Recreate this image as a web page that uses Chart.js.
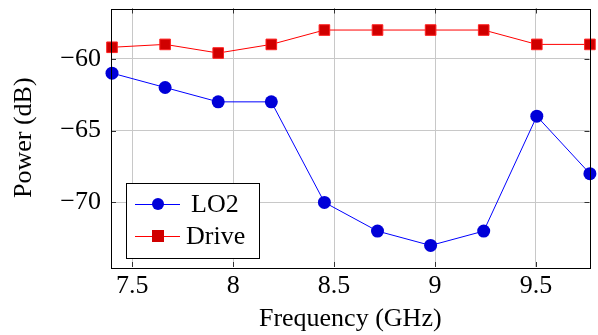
<!DOCTYPE html>
<html>
<head>
<meta charset="utf-8">
<script src="https://cdn.jsdelivr.net/npm/chart.js@4/dist/chart.umd.min.js"></script>
<style>
  html, body { margin: 0; padding: 0; background: #fff; }
  #wrap { width: 598px; height: 335px; }
</style>
</head>
<body>
<div id="wrap"><canvas id="chart" width="598" height="335"></canvas></div>
<script>
// --- data ---
const freqs = [7.4, 7.663, 7.926, 8.189, 8.452, 8.715, 8.978, 9.241, 9.504, 9.767];
const lo2 = [-61, -62, -63, -63, -70, -72, -73, -72, -64, -68];
const drive = [-59.2, -59, -59.6, -59, -58, -58, -58, -58, -59, -59];
const xTicks = [7.5, 8, 8.5, 9, 9.5];
const yTicks = [-70, -65, -60];

const FONT = "'Liberation Serif', 'DejaVu Serif', serif";

function toPoints(ys) {
  return freqs.map((f, i) => ({ x: f, y: ys[i] }));
}

// frame round the plot with small inner ticks (pgfplots style)
const framePlugin = {
  id: 'frame',
  afterDraw(chart) {
    const { ctx, chartArea: a, scales } = chart;
    ctx.save();
    ctx.strokeStyle = '#333';
    ctx.lineWidth = 1;
    ctx.beginPath();
    for (const v of xTicks) {
      const px = Math.round(scales.x.getPixelForValue(v)) + 0.5;
      ctx.moveTo(px, a.top); ctx.lineTo(px, a.top + 5);
      ctx.moveTo(px, a.bottom); ctx.lineTo(px, a.bottom - 5);
    }
    for (const v of yTicks) {
      const py = Math.round(scales.y.getPixelForValue(v)) + 0.5;
      ctx.moveTo(a.left, py); ctx.lineTo(a.left + 5, py);
      ctx.moveTo(a.right, py); ctx.lineTo(a.right - 5, py);
    }
    ctx.stroke();
    ctx.strokeStyle = '#000';
    ctx.strokeRect(Math.round(a.left) + 0.5, Math.round(a.top) + 0.5,
      Math.round(a.right - a.left), Math.round(a.bottom - a.top));
    ctx.restore();
  }
};

// legend box inside the plot, lower left
const legendBox = {
  id: 'legendBox',
  afterDraw(chart) {
    const { ctx, chartArea: a } = chart;
    const x0 = a.left + 15, y0 = a.bottom - 84, w = 133, h = 75;
    ctx.save();
    ctx.fillStyle = '#fff';
    ctx.fillRect(x0, y0, w, h);
    ctx.strokeStyle = '#000';
    ctx.lineWidth = 1;
    ctx.strokeRect(x0 + 0.5, y0 + 0.5, w, h);
    chart.data.datasets.forEach((ds, i) => {
      const cy = y0 + 21 + i * 32;
      ctx.strokeStyle = ds.borderColor;
      ctx.beginPath();
      ctx.moveTo(x0 + 9, cy + 0.5); ctx.lineTo(x0 + 54, cy + 0.5);
      ctx.stroke();
      ctx.fillStyle = ds.pointBackgroundColor;
      if (ds.pointStyle === 'rect') {
        ctx.fillRect(x0 + 26, cy - 6, 12, 12);
      } else {
        ctx.beginPath();
        ctx.arc(x0 + 32, cy, 6, 0, Math.PI * 2);
        ctx.fill();
      }
      ctx.fillStyle = '#000';
      ctx.font = '26px ' + FONT;
      ctx.textBaseline = 'middle';
      ctx.fillText(ds.label, x0 + (i === 0 ? 65 : 60), cy + 1);
    });
    ctx.restore();
  }
};

const cfg = {
  type: 'scatter',
  data: {
    datasets: [
      {
        label: 'LO2',
        data: toPoints(lo2),
        showLine: true,
        borderColor: '#0000ff',
        borderWidth: 1,
        pointStyle: 'circle',
        pointRadius: 6.5,
        pointBackgroundColor: '#0000d8',
        pointBorderColor: '#0000d8',
        pointBorderWidth: 0,
      },
      {
        label: 'Drive',
        data: toPoints(drive),
        showLine: true,
        borderColor: '#ff0000',
        borderWidth: 1,
        pointStyle: 'rect',
        pointRadius: 7.5,
        pointBackgroundColor: '#d00000',
        pointBorderColor: '#ff2020',
        pointBorderWidth: 1,
      },
    ],
  },
  options: {
    responsive: false,
    animation: false,
    clip: false,
    layout: { padding: { top: 8, right: 2, left: 0, bottom: 0 } },
    plugins: { legend: { display: false }, tooltip: { enabled: false } },
    scales: {
      x: {
        type: 'linear',
        min: 7.395,
        max: 9.765,
        afterFit(s) { s.height = 68; s.paddingLeft = 0; s.paddingRight = 0; },
        afterBuildTicks(s) { s.ticks = xTicks.map(v => ({ value: v })); },
        ticks: {
          color: '#000',
          font: { family: FONT, size: 26 },
          padding: 4,
          maxRotation: 0,
          callback: v => String(v),
        },
        grid: { color: '#c8c8c8', lineWidth: 1, drawTicks: false },
        border: { display: false },
        title: {
          display: true,
          text: 'Frequency (GHz)',
          color: '#000',
          font: { family: FONT, size: 26 },
          padding: { top: 4, bottom: 0 },
        },
      },
      y: {
        type: 'linear',
        min: -74.5,
        max: -56.5,
        afterFit(s) { s.width = 111; s.paddingTop = 0; s.paddingBottom = 0; },
        afterBuildTicks(s) { s.ticks = yTicks.map(v => ({ value: v })); },
        ticks: {
          color: '#000',
          font: { family: FONT, size: 26 },
          padding: 10,
          callback: v => String(v).replace('-', '\u2212'),
        },
        grid: { color: '#c8c8c8', lineWidth: 1, drawTicks: false },
        border: { display: false },
        title: {
          display: true,
          text: 'Power (dB)',
          color: '#000',
          font: { family: FONT, size: 26 },
          padding: { top: 9, bottom: 0 },
        },
      },
    },
  },
  plugins: [framePlugin, legendBox],
};

new Chart(document.getElementById('chart'), cfg);
</script>
</body>
</html>
